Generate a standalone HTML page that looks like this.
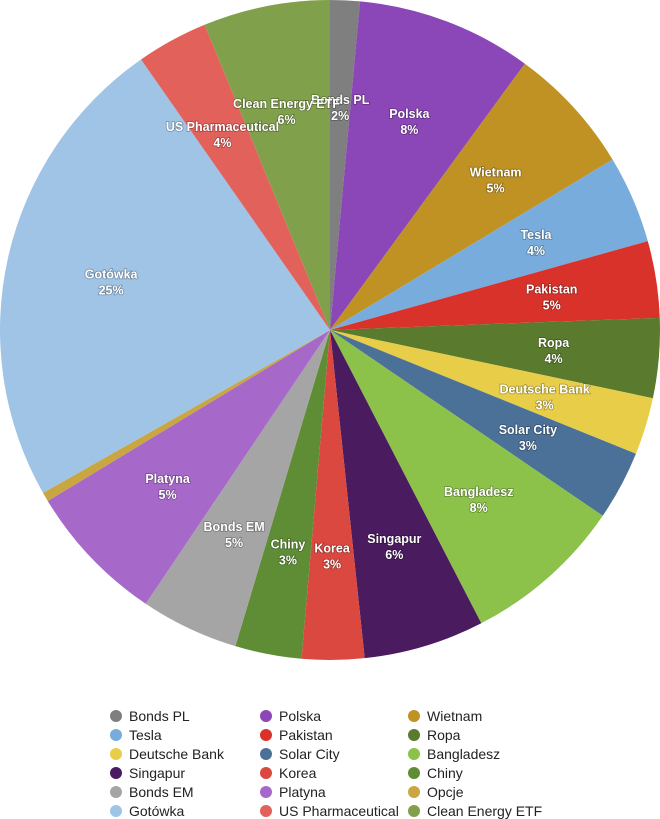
<!DOCTYPE html>
<html><head><meta charset="utf-8"><style>
body{margin:0;background:#fff;width:660px;height:819px;overflow:hidden;font-family:"Liberation Sans",sans-serif}
svg{display:block}
</style></head><body>
<svg id="chart" width="660" height="819" viewBox="0 0 660 819"></svg>
<script>
const categories=["Bonds PL","Polska","Wietnam","Tesla","Pakistan","Ropa","Deutsche Bank","Solar City","Bangladesz","Singapur","Korea","Chiny","Bonds EM","Platyna","Opcje","Gotówka","US Pharmaceutical","Clean Energy ETF"];
const values=[1.45,8.6,6.3,4.3,3.75,3.9,2.8,3.4,7.9,5.9,3.05,3.25,4.8,6.9,0.45,23.5,3.5,6.2];
const printedLabels=["2%","8%","5%","4%","5%","4%","3%","3%","8%","6%","3%","3%","5%","5%","","25%","4%","6%"];
const colors=["#7f7f7f","#8b46b8","#bf9223","#78acdc","#d8322a","#5a7a2e","#e8cd48","#4b7199","#8cc24a","#4a1b5e","#da4840","#5f8d35","#a5a5a5","#a769c9","#caa640","#9fc4e6","#e2625b","#80a04b"];
const legendOrder=[0,1,2,3,4,5,6,7,8,9,10,11,12,13,14,15,16,17];
const NS="http://www.w3.org/2000/svg";
const svg=document.getElementById("chart");
const cx=330,cy=330,R=330;
const total=values.reduce((a,b)=>a+b,0);
function pt(a,r){return [cx+r*Math.sin(a),cy-r*Math.cos(a)];}
let acc=0;
const labelG=document.createElementNS(NS,"g");
values.forEach((v,i)=>{
  const a0=acc/total*2*Math.PI; acc+=v; const a1=acc/total*2*Math.PI;
  const [x0,y0]=pt(a0,R),[x1,y1]=pt(a1,R);
  const p=document.createElementNS(NS,"path");
  p.setAttribute("d",`M${cx},${cy}L${x0},${y0}A${R},${R} 0 ${a1-a0>Math.PI?1:0} 1 ${x1},${y1}Z`);
  p.setAttribute("fill",colors[i]);
  
  
  svg.appendChild(p);
  if(printedLabels[i]){
    const [lx,ly]=pt((a0+a1)/2,R*0.68);
    const t=document.createElementNS(NS,"text");
    t.setAttribute("x",lx);t.setAttribute("y",ly-2);
    t.setAttribute("text-anchor","middle");t.setAttribute("fill","#fff");
    t.setAttribute("font-size","12.5");t.setAttribute("font-weight","bold");
    t.setAttribute("style","paint-order:stroke;stroke:rgba(0,0,0,0.3);stroke-width:1.5px");
    
    
    const s1=document.createElementNS(NS,"tspan");s1.setAttribute("x",lx);s1.textContent=categories[i];
    const s2=document.createElementNS(NS,"tspan");s2.setAttribute("x",lx);s2.setAttribute("dy","16");s2.textContent=printedLabels[i];
    t.appendChild(s1);t.appendChild(s2);labelG.appendChild(t);
  }
});
svg.appendChild(labelG);
const colX=[110,260,408];
legendOrder.forEach((idx,k)=>{
  const col=k%3,row=Math.floor(k/3);
  const x=colX[col],y=716+row*19;
  const g=document.createElementNS(NS,"g");
  
  
  const r=document.createElementNS(NS,"circle");
  r.setAttribute("cx",x+6);r.setAttribute("cy",y);r.setAttribute("r",6);r.setAttribute("fill",colors[idx]);
  const t=document.createElementNS(NS,"text");
  t.setAttribute("x",x+19);t.setAttribute("y",y+5);t.setAttribute("font-size","14");t.setAttribute("fill","#222");
  t.textContent=categories[idx];
  g.appendChild(r);g.appendChild(t);svg.appendChild(g);
});
</script>
</body></html>
